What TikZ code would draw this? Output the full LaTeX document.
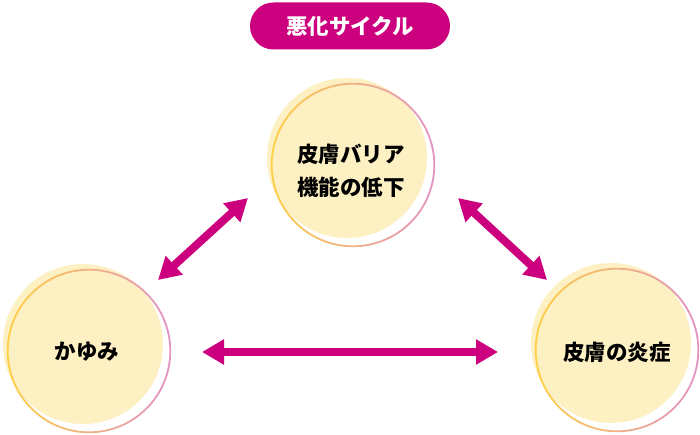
\documentclass[tikz,border=0pt]{standalone}
\usepackage{fontspec}
\setmainfont{Noto Sans CJK JP}
\usetikzlibrary{arrows.meta}
\definecolor{mag}{HTML}{CC007E}
\definecolor{cream}{HTML}{FDF0C2}
\definecolor{ringY}{HTML}{FFCF45}
\definecolor{ringM}{HTML}{F2A898}
\definecolor{ringP}{HTML}{E292C4}
\tikzset{
  x=1pt, y=-1pt,
  disc/.style={fill=cream, draw=none},
  lbl/.style={font=\fontsize{21.5}{33}\selectfont\bfseries, text=black, align=center, inner sep=0pt},
  dbl/.style={draw=mag, line width=8pt, {Triangle[width=24pt,length=22pt]}-{Triangle[width=24pt,length=22pt]}},
  pill/.style={fill=mag, rounded corners=23.5pt, minimum width=200pt, minimum height=47pt, inner sep=0pt, text=white, font=\fontsize{21.5}{24}\selectfont\bfseries}
}
\newcommand{\ringdisc}[3]{%
  \fill[cream] (#1,#2) circle (80);
  \shade[even odd rule, left color=ringY, middle color=ringM, right color=ringP]
    ({#1+6},{#2+7}) circle (82.2) ({#1+6},{#2+7}) circle (80.4);
  \node[lbl] (#3) at ({#1+4},{#2+10}) {};
}
\begin{document}
\begin{tikzpicture}
\useasboundingbox (0,0) rectangle (700,435);
\fill[white] (0,0) rectangle (700,435);
\node[pill] (title) at (350,26) {悪化サイクル};
\ringdisc{347}{158}{cTop}
\ringdisc{83}{344}{cLeft}
\ringdisc{611}{343}{cRight}
\node[lbl] (tTop) at (351,171) {皮膚バリア\\機能の低下};
\node[lbl] (tLeft) at (87,352) {かゆみ};
\node[lbl] (tRight) at (617,352) {皮膚の炎症};
\coordinate (a1) at (158,280);
\coordinate (a2) at (248,198);
\coordinate (b1) at (458,198);
\coordinate (b2) at (547,280);
\coordinate (h1) at (202,352);
\coordinate (h2) at (498,352);
\draw[dbl] (a1) -- (a2);
\draw[dbl] (b1) -- (b2);
\draw[dbl] (h1) -- (h2);
\end{tikzpicture}
\end{document}
